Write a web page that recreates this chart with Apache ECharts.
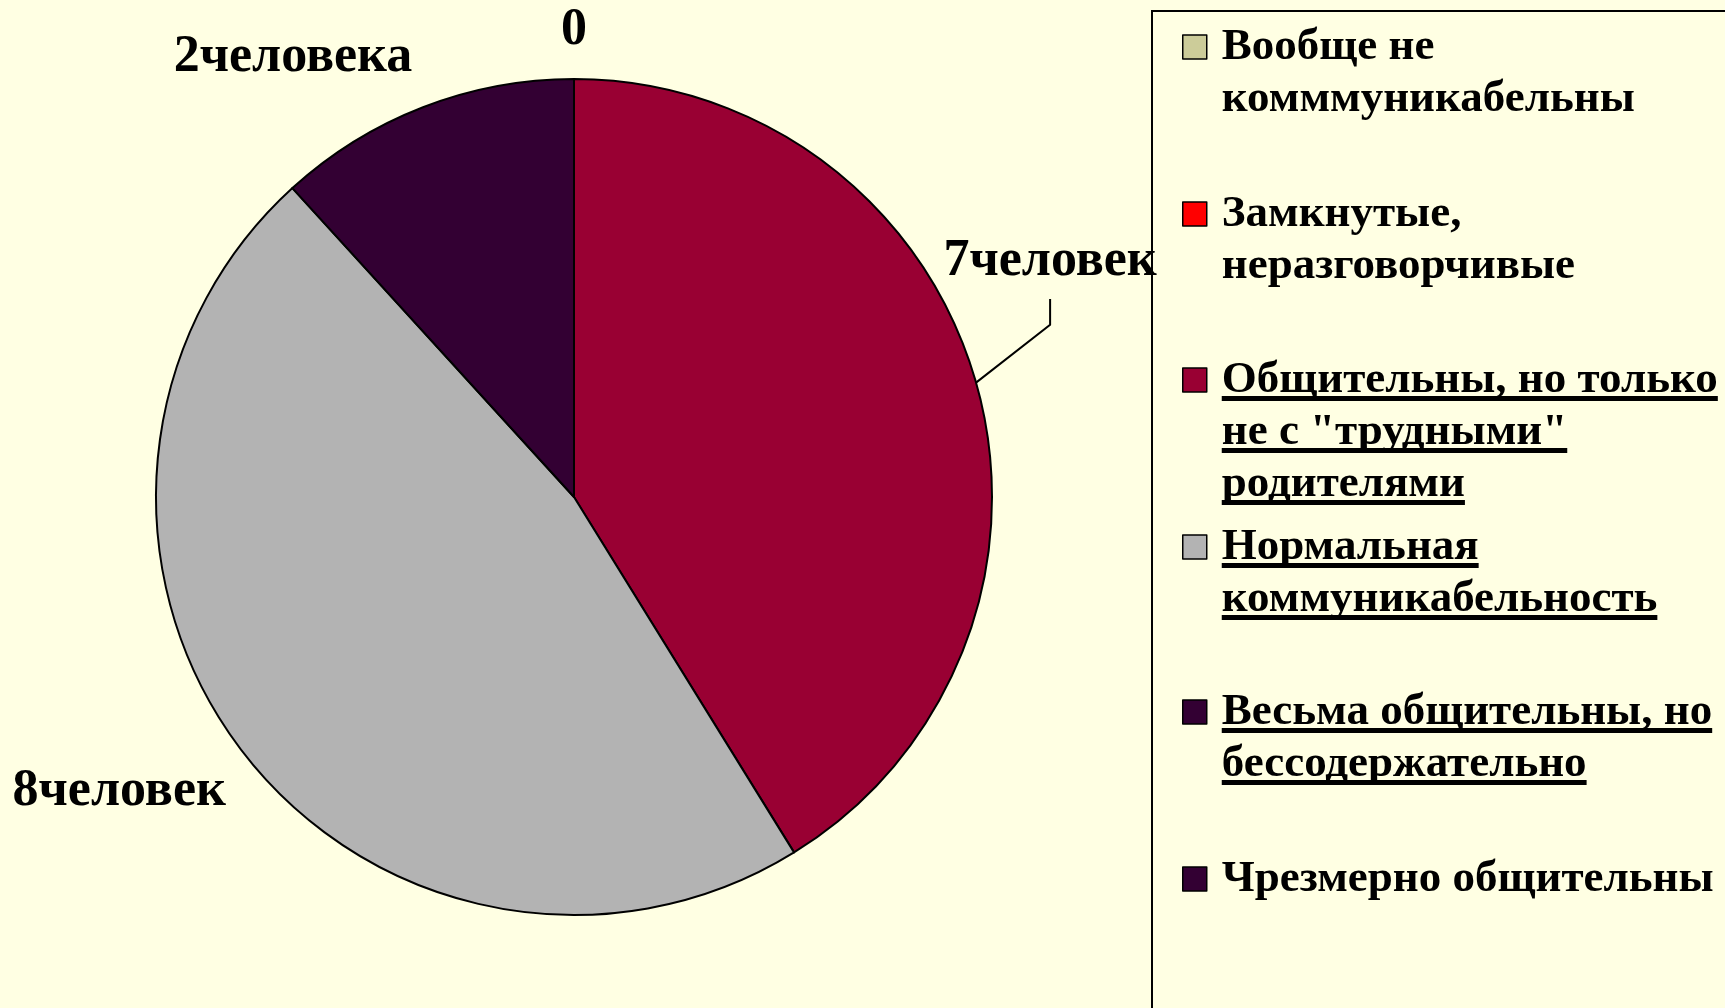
<!DOCTYPE html>
<html><head><meta charset="utf-8">
<script src="https://cdn.jsdelivr.net/npm/echarts@6/dist/echarts.min.js"></script>
<style>html,body{margin:0;padding:0;background:#FFFFE3;} #chart{width:1725px;height:1008px;}</style>
</head><body><div id="chart"></div>
<script>
// ---- data ----
const categories = [
  'Вообще не комммуникабельны',
  'Замкнутые, неразговорчивые',
  'Общительны, но только не с "трудными" родителями',
  'Нормальная коммуникабельность',
  'Весьма общительны, но бессодержательно',
  'Чрезмерно общительны'
];
const values = [0, 0, 7, 8, 2, 0];
const sliceLabels = ['0', '', '7человек', '8человек', '2человека', ''];
const legendLines = [
  ['Вообще не', 'комммуникабельны'],
  ['Замкнутые,', 'неразговорчивые'],
  ['Общительны, но только', 'не с "трудными"', 'родителями'],
  ['Нормальная', 'коммуникабельность'],
  ['Весьма общительны, но', 'бессодержательно'],
  ['Чрезмерно общительны']
];
const underlined = [false, false, true, true, true, false];

// ---- style ----
const palette = ['#CCCC99', '#FF0000', '#990033', '#B3B3B3', '#330033', '#330033'];
const FONT = '"Liberation Serif", "Times New Roman", serif';
const CX = 574, CY = 497, R = 418;
const LH = 52;
const iconCenters = [47, 214, 380, 547, 712, 879];
const labelPlace = {0: {shift: 0, gap: 48}, 2: {shift: -10.4, gap: 113}, 3: {shift: 4.1, gap: 124}, 4: {shift: -11.4, gap: 104}};

const total = values.reduce((a, b) => a + b, 0);
function midAngle(i) {
  let s = 0;
  for (let k = 0; k < i; k++) s += values[k];
  return (s + values[i] / 2) / total * 360;
}

const underlineBg = new echarts.graphic.LinearGradient(0, 0, 0, 1, [
  {offset: 0, color: 'rgba(0,0,0,0)'},
  {offset: 0.815, color: 'rgba(0,0,0,0)'},
  {offset: 0.815, color: '#000'},
  {offset: 0.895, color: '#000'},
  {offset: 0.895, color: 'rgba(0,0,0,0)'},
  {offset: 1, color: 'rgba(0,0,0,0)'}
]);

const legends = categories.map((name, i) => {
  const n = legendLines[i].length;
  return {
    data: [name],
    left: 1182,
    top: iconCenters[i] - (2 * n - 1) * LH / 2,
    orient: 'vertical',
    padding: 0,
    itemWidth: 24,
    itemHeight: 24,
    selectedMode: false,
    icon: 'rect',
    itemStyle: {borderColor: '#000', borderWidth: 1.5},
    formatter: function () {
      const tag = underlined[i] ? 'u' : 'n';
      return legendLines[i].map(l => '{' + tag + '|' + l + '}').join('\n');
    },
    textStyle: {
      color: '#000',
      fontFamily: FONT,
      fontWeight: 'bold',
      fontSize: 45,
      lineHeight: LH,
      padding: [(n - 1) * LH, 0, 0, 10],
      rich: {
        n: {fontFamily: FONT, fontWeight: 'bold', fontSize: 45, lineHeight: LH, height: LH, color: '#000'},
        u: {fontFamily: FONT, fontWeight: 'bold', fontSize: 45, lineHeight: LH, height: LH, color: '#000', backgroundColor: underlineBg}
      }
    }
  };
});

const chart = echarts.init(document.getElementById('chart'), null, {renderer: 'canvas'});
chart.setOption({
  backgroundColor: '#FFFFE3',
  animation: false,
  legend: legends,
  graphic: [{
    type: 'rect', z: 100, silent: true,
    shape: {x: 1152, y: 11, width: 700, height: 1100},
    style: {fill: 'none', stroke: '#000', lineWidth: 2}
  }],
  series: [{
    type: 'pie',
    center: [CX, CY],
    radius: R,
    startAngle: 90,
    clockwise: true,
    avoidLabelOverlap: false,
    emphasis: {disabled: true},
    itemStyle: {borderColor: '#000', borderWidth: 2},
    label: {
      show: true,
      position: 'outside',
      color: '#000',
      fontFamily: FONT,
      fontWeight: 'bold',
      fontSize: 52,
      formatter: p => sliceLabels[p.dataIndex]
    },
    labelLine: {show: true, length: 20, length2: 10, lineStyle: {color: '#000', width: 2}},
    labelLayout: function (p) {
      const pl = labelPlace[p.dataIndex];
      if (!pl) return {};
      const mid = midAngle(p.dataIndex) * Math.PI / 180;
      const a = (midAngle(p.dataIndex) + pl.shift) * Math.PI / 180;
      const r = R + pl.gap;
      const x = CX + r * Math.sin(a), y = CY - r * Math.cos(a);
      const out = {x: x, y: y, align: 'center', verticalAlign: 'middle'};
      if (p.dataIndex === 2) {
        const e = [CX + R * Math.sin(mid), CY - R * Math.cos(mid)];
        out.labelLinePoints = [e, [x, y + 63], [x, y + 37]];
      }
      return out;
    },
    data: categories.map((name, i) => ({
      name: name,
      value: values[i],
      itemStyle: {color: palette[i]},
      label: {show: sliceLabels[i] !== ''},
      labelLine: {show: i === 2}
    }))
  }]
});
</script></body></html>
